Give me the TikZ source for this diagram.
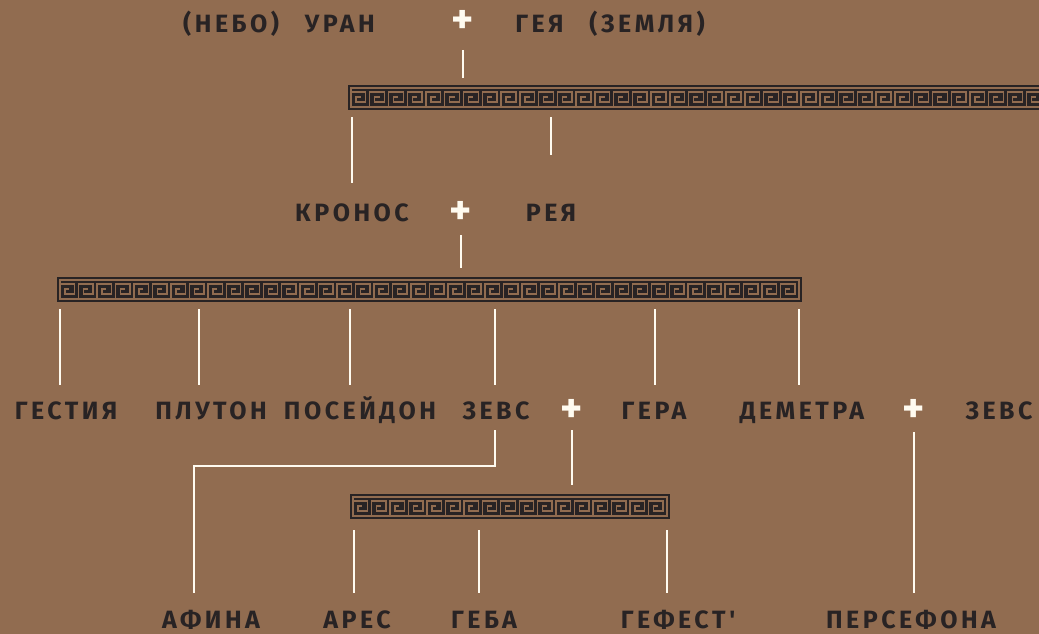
\documentclass[tikz,border=0pt]{standalone}
\usepackage{fontspec}
\usepackage{tikz}
\usepackage{xcolor}
\newfontfamily\mythfont[LetterSpace=14]{Fira Sans}
\newfontfamily\plusfont{Fira Sans}
\definecolor{clayBrown}{RGB}{145,108,80}
\definecolor{pitchBlack}{RGB}{40,35,36}
\definecolor{boneWhite}{RGB}{255,251,240}
\tikzset{
  god/.style={text=pitchBlack, font=\mythfont\bfseries\fontsize{25}{25}\selectfont, inner sep=0pt, outer sep=0pt, text height=17pt, text depth=0pt},
  plus/.style={text=boneWhite, font=\plusfont\bfseries\fontsize{42}{42}\selectfont, inner sep=0pt},
  link/.style={draw=boneWhite, line width=2pt},
  meander/.style={fill=pitchBlack, minimum height=25pt, inner sep=0pt, outer sep=0pt, anchor=north west},
  keyline/.style={draw=clayBrown, line width=1.4pt}
}
% greek key band: name, x, y, width
\newcommand{\keyband}[4]{%
  \node[meander, minimum width=#4pt] (#1) at (#2,#3) {};
  \draw[keyline] (#2+3,#3+3) rectangle (#2+#4-3,#3+22);
  \pgfmathtruncatemacro{\nkey}{round((#4-6)/18.6)}
  \pgfmathsetmacro{\wkey}{(#4-6)/\nkey}
  \foreach \k in {1,...,\nkey}{
    \pgfmathsetmacro{\xa}{#2+3+(\k-1)*\wkey}
    \draw[keyline] (\xa,#3+22) -- (\xa,#3+7) -- (\xa+\wkey-4,#3+7) -- (\xa+\wkey-4,#3+17)
      -- (\xa+5,#3+17) -- (\xa+5,#3+12) -- (\xa+\wkey-9,#3+12);
  }
}

\begin{document}
\begin{tikzpicture}[x=1pt,y=-1pt]
  \fill[clayBrown] (0,0) rectangle (1039,634);
  \useasboundingbox (0,0) rectangle (1039,634);

  % first generation
  \node[god] (uranus) at (279,24) {(НЕБО)\hspace{26pt}УРАН};
  \node[plus] (plus1) at (463,22) {+};
  \node[god] (gaia) at (610,24) {ГЕЯ\hspace{26pt}(ЗЕМЛЯ)};
  \keyband{bar1}{348}{85}{700}
  \draw[link, shorten <=28pt, shorten >=7pt] (plus1.center) -- (plus1.center |- bar1.north);

  % titans
  \node[god] (kronos) at (352,213) {КРОНОС};
  \node[plus] (plus2) at (461,213) {+};
  \node[god] (rhea) at (551,213) {РЕЯ};
  \draw[link, shorten <=7pt, shorten >=21.5pt] (bar1.south -| kronos) -- (kronos.north);
  \draw[link, shorten <=7pt, shorten >=49.5pt] (bar1.south -| rhea) -- (rhea.north);
  \keyband{bar2}{57}{277}{745}
  \draw[link, shorten <=22pt, shorten >=9pt] (plus2.center) -- (plus2.center |- bar2.north);

  % olympians
  \node[god] (hestia) at (66,411) {ГЕСТИЯ};
  \node[god] (pluto) at (211,411) {ПЛУТОН};
  \node[god] (poseidon) at (360,411) {ПОСЕЙДОН};
  \node[god] (zeus) at (496,411) {ЗЕВС};
  \node[plus] (plus3) at (572,411) {+};
  \node[god] (hera) at (654,411) {ГЕРА};
  \node[god] (demeter) at (802,411) {ДЕМЕТРА};
  \node[plus] (plus4) at (914,411) {+};
  \node[god] (zeus2) at (999,411) {ЗЕВС};
  \draw[link, shorten <=7pt, shorten >=17.5pt] ([xshift=-6pt]bar2.south -| hestia) -- ([xshift=-6pt]hestia.north);
  \draw[link, shorten <=7pt, shorten >=17.5pt] ([xshift=-12pt]bar2.south -| pluto) -- ([xshift=-12pt]pluto.north);
  \draw[link, shorten <=7pt, shorten >=17.5pt] ([xshift=-10pt]bar2.south -| poseidon) -- ([xshift=-10pt]poseidon.north);
  \draw[link, shorten <=7pt, shorten >=17.5pt] ([xshift=-1pt]bar2.south -| zeus) -- ([xshift=-1pt]zeus.north);
  \draw[link, shorten <=7pt, shorten >=17.5pt] ([xshift=1pt]bar2.south -| hera) -- ([xshift=1pt]hera.north);
  \draw[link, shorten <=7pt, shorten >=17.5pt] ([xshift=-3pt]bar2.south -| demeter) -- ([xshift=-3pt]demeter.north);

  % children
  \node[god] (athena) at (211,620) {АФИНА};
  \node[god] (ares) at (357,620) {АРЕС};
  \node[god] (hebe) at (484,620) {ГЕБА};
  \node[god] (hephaestus) at (678,620) {ГЕФЕСТ'};
  \node[god] (persephone) at (911,620) {ПЕРСЕФОНА};
  \keyband{bar3}{350}{494}{320}
  \draw[link, shorten <=10.5pt, shorten >=18.5pt] ([xshift=-1pt]zeus.south) -- ++(0,46.5) -| ([xshift=-17pt]athena.north);
  \draw[link, shorten <=19pt, shorten >=9pt] (plus3.center) -- (plus3.center |- bar3.north);
  \draw[link, shorten <=11pt, shorten >=18.5pt] ([xshift=-3pt]bar3.south -| ares) -- ([xshift=-3pt]ares.north);
  \draw[link, shorten <=11pt, shorten >=18.5pt] ([xshift=-5pt]bar3.south -| hebe) -- ([xshift=-5pt]hebe.north);
  \draw[link, shorten <=11pt, shorten >=18.5pt] ([xshift=-11pt]bar3.south -| hephaestus) -- ([xshift=-11pt]hephaestus.north);
  \draw[link, shorten <=21pt, shorten >=18.5pt] (plus4.center) -- (plus4.center |- persephone.north);
\end{tikzpicture}
\end{document}
